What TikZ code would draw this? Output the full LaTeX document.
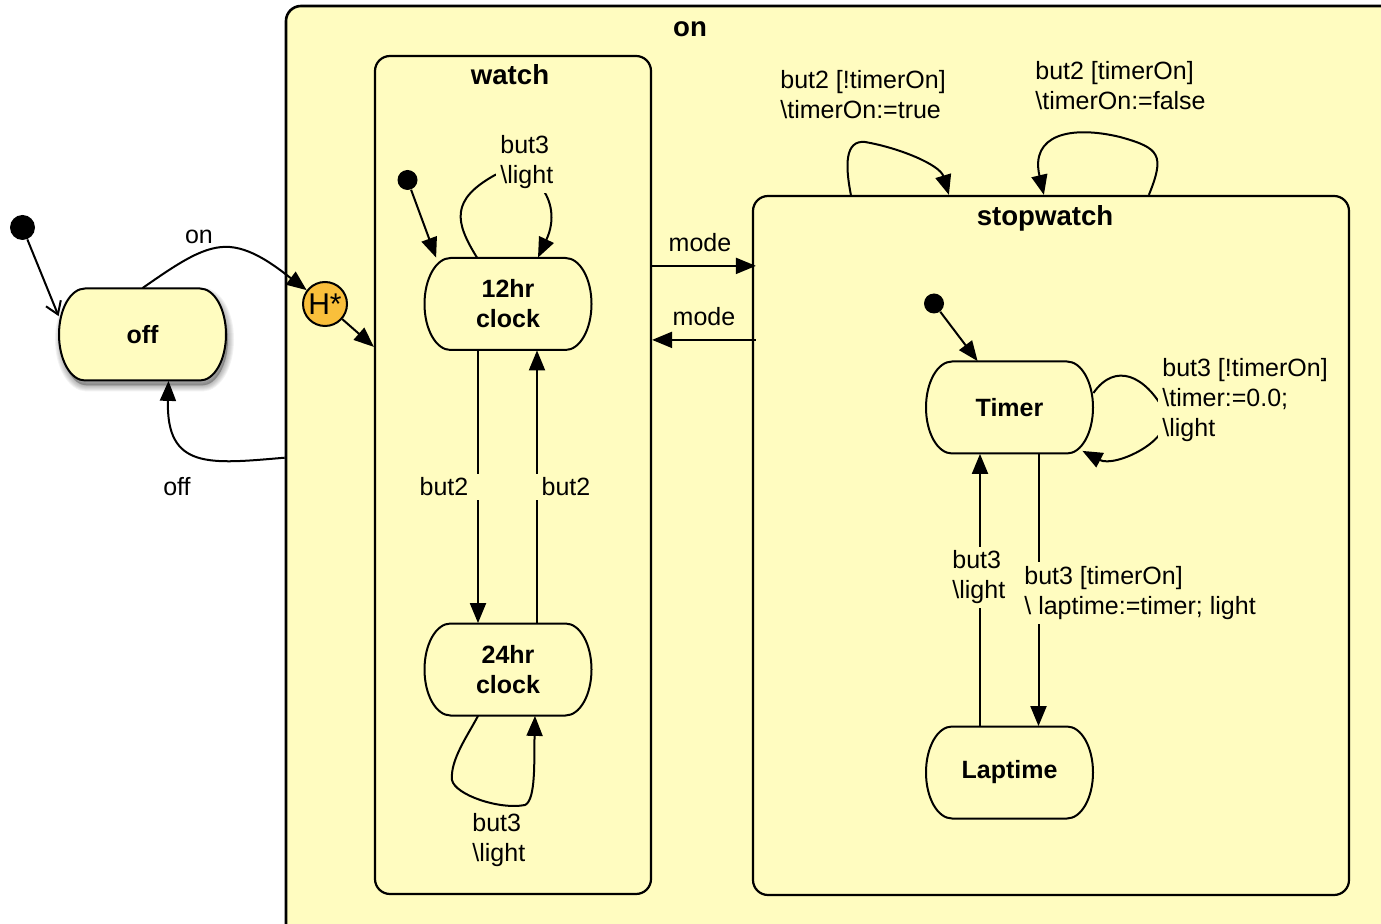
\documentclass[tikz,border=0pt]{standalone}
\usepackage{fontspec}
\setmainfont{Liberation Sans}
\usetikzlibrary{arrows.meta,calc}
\definecolor{bg}{HTML}{FFFCC0}
\definecolor{histfill}{HTML}{F9BF3B}

% stadium-like outline of a simple state, centred at (#1,#2)
\newcommand\stadium[3]{%
  \begin{scope}[shift={(#1,#2)}]
    \path[#3] (-28.75pt,23pt) -- (28.75pt,23pt)
      arc[start angle=90,end angle=-90,x radius=13pt,y radius=23pt]
      -- (-28.75pt,-23pt)
      arc[start angle=270,end angle=90,x radius=13pt,y radius=23pt] -- cycle;
  \end{scope}}
% simple state: name, x, y, text
\newcommand\statenode[4]{%
  \stadium{#2}{#3}{draw=black,line width=1pt,fill=bg}
  \node[statetext] (#1) at (#2,#3) {#4};}

\begin{document}
\begin{tikzpicture}[x=0.5pt,y=-0.5pt,
  container/.style={rectangle,draw=black,line width=1.1pt,fill=bg,rounded corners=7.5pt,inner sep=0pt},
  title/.style={font=\fontsize{13.8pt}{16pt}\selectfont\bfseries,inner sep=1pt},
  statetext/.style={rectangle,minimum width=83.5pt,minimum height=46pt,inner sep=0pt,align=center,
    font=\fontsize{12.5pt}{15pt}\selectfont\bfseries},
  lbl/.style={font=\fontsize{12.5pt}{15pt}\selectfont,align=left,inner sep=2pt},
  lblf/.style={lbl,fill=bg},
  tr/.style={line width=1pt,-{Triangle[length=10pt,width=8pt]}},
  initdot/.style={circle,fill=black,inner sep=0pt,minimum size=10pt}]

\useasboundingbox (0,0) rectangle (1381,924);
\clip (0,0) rectangle (1381,924);

% composite state "on" (continues past the right and bottom edges)
\node[container,line width=1.3pt,minimum width=557pt,minimum height=472pt] (on) at (843,478) {};
\node[title] (ontitle) at (690,29.5) {on};

\node[container,minimum width=138pt,minimum height=419pt] (watch) at (513,475) {};
\node[title] (watchtitle) at (510,75) {watch};

\node[container,minimum width=298pt,minimum height=349.5pt] (stopwatch) at (1051,545.5) {};
\node[title] (swtitle) at (1045,218.5) {stopwatch};

% state "off" with its soft shadow
\foreach \w in {1,...,6} {\stadium{144.5}{339.5}{fill=black,draw=black,opacity=0.05,line width=\w pt}}
\statenode{off}{142.5}{334.5}{off}

% initial pseudo-states and history
\node[initdot,minimum size=12.5pt] (i0) at (22.5,227.5) {};
\node[initdot] (i1) at (407.5,180) {};
\node[initdot] (i2) at (934,303.5) {};
\node[circle,draw=black,line width=1pt,fill=histfill,minimum size=22pt,inner sep=0pt,
  font=\fontsize{15pt}{15pt}\selectfont] (hist) at (325,304) {H*};

% off <-> on
\draw[line width=1pt,-{Straight Barb[length=6pt,width=8pt]}] (i0) -- ([yshift=-14pt]off.north west);
\draw[tr] (off.north) .. controls (180,262) and (205,245) .. (230,247)
  .. controls (255,249) and (280,270) .. (hist);
\node[lbl] (lblon) at (199,237) {on};
\draw[tr] (hist) -- ([yshift=-146pt]watch.north west);
\draw[tr] ($(on.north west)+(0,453)$) .. controls (210,464) and (166,470) .. ([xshift=13pt]off.south);
\node[lbl] (lbloff) at (177,487) {off};

% watch
\statenode{h12}{508}{304}{12hr\\clock}
\statenode{h24}{508}{669.5}{24hr\\clock}
\draw[tr] (i1) -- ([xshift=6pt]h12.north west);
\draw[tr] ([xshift=-15.5pt]h12.north) .. controls (455,222) and (450,200) .. (495,175)
  .. controls (530,160) and (565,200) .. ([xshift=15pt]h12.north);
\node[lblf,anchor=west] (lblh12) at (496,162) {but3\\\textbackslash light};
\draw[tr] ([xshift=-15pt]h12.south) -- ([xshift=-15pt]h24.north);
\draw[tr] ([xshift=14.5pt]h24.north) -- ([xshift=14.5pt]h12.south);
\node[lblf,inner xsep=6pt] (lbl12to24) at (444,487) {but2};
\node[lblf,inner xsep=6pt] (lbl24to12) at (566,487) {but2};
\draw[tr] ([xshift=-15pt]h24.south) .. controls (468,735) and (450,760) .. (452,780)
  .. controls (455,795) and (500,810) .. (525,805)
  .. controls (536,800) and (534,760) .. ([xshift=13.5pt]h24.south);
\node[lbl,anchor=west] (lblh24) at (468,840) {but3\\\textbackslash light};

% watch <-> stopwatch
\draw[tr] ([yshift=-105.5pt]watch.north east) -- ([xshift=2pt,yshift=-35.5pt]stopwatch.north west);
\draw[tr] ([xshift=2pt,yshift=-72.5pt]stopwatch.north west) -- ([yshift=-142.5pt]watch.north east);
\node[lbl] (lblmode1) at (700,243) {mode};
\node[lbl] (lblmode2) at (704,317) {mode};

% stopwatch self transitions
\draw[tr] ([xshift=49.5pt]stopwatch.north west) .. controls (845,165) and (845,140) .. (865,142)
  .. controls (900,148) and (940,165) .. ([xshift=98.5pt]stopwatch.north west);
\node[lbl,anchor=west] (lblsw1) at (776,95) {but2 [!timerOn]\\\textbackslash timerOn:=true};
\draw[tr] ([xshift=198.5pt]stopwatch.north west) .. controls (1165,155) and (1160,148) .. (1120,137)
  .. controls (1070,125) and (1030,135) .. ([xshift=146pt]stopwatch.north west);
\node[lbl,anchor=west] (lblsw2) at (1031,86) {but2 [timerOn]\\\textbackslash timerOn:=false};

% stopwatch
\statenode{timer}{1009.5}{407.5}{Timer}
\statenode{lap}{1009.5}{772.5}{Laptime}
\draw[tr] (i2) -- ([xshift=26pt]timer.north west);
\draw[tr] ([yshift=7.25pt]timer.east) .. controls (1115,362) and (1145,375) .. (1165,412)
  .. controls (1175,440) and (1115,468) .. ([xshift=-5.5pt,yshift=1.5pt]timer.south east);
\node[lblf,anchor=west] (lbltimer) at (1158,400.5) {but3 [!timerOn]\\\textbackslash timer:=0.0;\\\textbackslash light};
\draw[tr] ([xshift=14.5pt]timer.south) -- ([xshift=14.5pt]lap.north);
\draw[tr] ([xshift=-14.75pt]lap.north) -- ([xshift=-14.75pt]timer.south);
\node[lblf,anchor=west] (lbllapup) at (948,577.5) {but3\\\textbackslash light};
\node[lblf,anchor=west] (lbltimerdown) at (1020,593) {but3 [timerOn]\\\textbackslash{} laptime:=timer; light};
\end{tikzpicture}
\end{document}
